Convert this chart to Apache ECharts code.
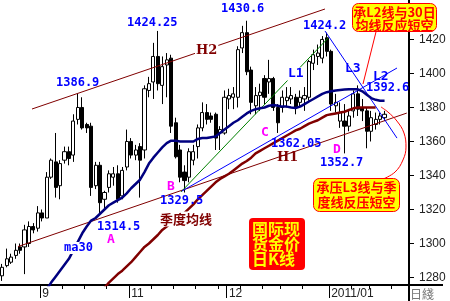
<!DOCTYPE html>
<html><head><meta charset="utf-8">
<script src="https://cdn.jsdelivr.net/npm/echarts@6/dist/echarts.min.js"></script>
<style>html,body{margin:0;padding:0;background:#fff}#c{width:450px;height:301px}</style>
</head><body><div id="c"></div><script>
// ---- data ----
const opens  = [1281,1287,1289,1293,1298,1298,1300,1310,1309,1318,1315,1339,1348,1334,1349,1354,1352,1373,1380,1370,1369,1334,1346,1326,1333,1339,1341,1328,1345,1360,1352,1357,1355,1390,1395,1410,1393,1405,1409,1371,1355,1342,1339,1349,1357,1368,1377,1375,1376,1365,1365,1385,1386,1386,1415,1424,1402,1381,1387,1397,1395,1397,1380,1380,1384,1385,1386,1383,1385,1386,1406,1410,1409,1421,1413,1381,1372,1372,1369,1378,1388,1380,1378,1366,1370,1373,1374];
const closes = [1286,1291,1292,1296,1296,1308,1310,1308,1318,1315,1339,1349,1333,1347,1354,1350,1372,1380,1368,1368,1333,1346,1324,1330,1341,1341,1326,1343,1360,1352,1355,1349,1391,1394,1410,1394,1404,1408,1369,1351,1339,1337,1354,1354,1368,1377,1373,1373,1362,1367,1386,1387,1388,1414,1424,1401,1383,1387,1389,1386,1397,1380,1371,1386,1386,1387,1380,1386,1387,1407,1411,1412,1420,1413,1382,1383,1377,1369,1375,1388,1379,1378,1366,1374,1373,1375,1376];
const highs  = [1288,1297,1294,1300,1300,1311,1313,1312,1322,1320,1342,1350,1365,1349,1357,1357,1376,1388,1386,1371,1371,1348,1348,1331,1343,1345,1346,1345,1367,1362,1358,1359,1393,1398,1418,1425,1410,1412,1411,1374,1358,1346,1356,1358,1370,1383,1382,1377,1377,1369,1390,1391,1392,1416,1428,1431,1404,1392,1394,1399,1408,1398,1382,1390,1392,1392,1388,1390,1392,1408,1414,1417,1422,1424,1414,1388,1383,1382,1378,1390,1393,1385,1380,1378,1377,1377,1378];
const lows   = [1278,1286,1288,1291,1294,1282,1298,1306,1307,1313,1315,1338,1327,1326,1347,1346,1348,1370,1367,1365,1328,1332,1317,1320,1330,1334,1324,1326,1343,1350,1349,1327,1350,1386,1385,1390,1382,1386,1365,1350,1336,1330,1336,1346,1350,1366,1370,1371,1355,1355,1364,1379,1379,1380,1412,1399,1376,1376,1378,1382,1388,1378,1365,1377,1380,1382,1376,1380,1378,1384,1402,1405,1406,1410,1378,1377,1368,1353,1366,1374,1375,1372,1356,1360,1367,1370,1372];
// 30-day moving average (navy) and quarterly average (dark red)
const ma30 = [null,null,null,null,null,null,null,null,null,null,1273,1277,1280.5,1284,1287.5,1291,1296,1301,1306,1310,1313.5,1315,1317.5,1320,1322.5,1324,1325.5,1327,1329.5,1332.5,1335,1337.5,1342,1347,1350.5,1353.5,1356.5,1359,1360.5,1360.5,1360,1360,1360,1360,1361.5,1362,1362,1362.5,1363,1365,1367,1369,1371,1372.5,1374.5,1376.5,1378,1379,1379.5,1380,1381,1381.5,1381,1380.5,1380.5,1380,1379.7,1380.5,1382,1383.5,1385,1386.5,1388,1389,1389.5,1390,1390.3,1390.5,1390.7,1390.7,1390.7,1389.5,1387.5,1385.5,1384.5,1384,1384];
const maSeason = [null,null,null,null,null,null,null,null,null,null,null,null,null,null,null,null,null,null,null,null,null,null,null,1274,1277,1279.5,1282,1284,1286.5,1289,1292,1295,1298,1300,1302.5,1305,1308,1310,1312,1314,1316,1318,1320.5,1323,1326,1328.5,1331,1333.5,1336,1338,1339.5,1341,1343,1345,1347,1348.5,1350.5,1353,1354.5,1356,1357.5,1359,1360.5,1362,1363.5,1365,1366.5,1367.5,1369,1370.5,1371.5,1372.5,1374,1375.5,1376,1376.5,1377,1377.5,1378.5,1379.5,1380,1380,1380,1380,1380];
// axis
const slotCount = 92;
const monthTickIdx = [9, 29, 51, 74];
const monthTickLabels = ['9', '11', '12', '2011/01'];
const weekTickIdx = [14, 19, 24, 34, 39, 44, 49, 54, 59, 63, 68, 79, 83, 88];
const yTicks = [1280, 1300, 1320, 1340, 1360, 1380, 1400, 1420];
// hand-drawn trend lines  [slot, price]
const lineH2 = [[6.7, 1379.1], [72.6, 1437.9]];
const lineH1 = [[3.55, 1298.2], [91.0, 1376.7]];
const lineL1 = [[40.2, 1330.3], [73.3, 1420.8]];
const lineL2 = [[40.4, 1330.8], [88.8, 1403.2]];
const lineL3 = [[72.6, 1425.0], [88.8, 1362.0]];
const pointerTop = [[84.07, 1424.4], [81.15, 1393.8]];
const pointerBottom = [[85.65, 1337.9], [88.35, 1342.0], [90.14, 1349.1], [90.82, 1356.7], [90.37, 1365.0], [88.79, 1372.0], [86.77, 1377.3], [85.2, 1380.3]];

const cats = Array.from({length: slotCount}, (_, i) => String(i));
const candles = opens.map((o, i) => [o, closes[i], lows[i], highs[i]]);

const NUM = 'bold 12px "DejaVu Sans Mono"';
const CJK = '"Noto Sans CJK SC"';
function txt(text, x, y, fill, font, extra) {
  return Object.assign({type: 'text', x: x, y: y, z: 50,
    style: Object.assign({text: text, fill: fill, font: font, textVerticalAlign: 'middle'}, extra || {})});
}
const BLUE = '#0000FF', MAG = '#FF00FF', DRED = '#800000';

const chart = echarts.init(document.getElementById('c'), null, {renderer: 'canvas'});
chart.setOption({
  animation: false,
  backgroundColor: '#fff',
  grid: {left: 0, right: 41, top: 0, bottom: 16, containLabel: false},
  xAxis: [
    {type: 'category', data: cats, boundaryGap: true, position: 'bottom',
     axisLine: {onZero: false, lineStyle: {color: '#000', width: 2}},
     axisTick: {show: true, interval: (i) => monthTickIdx.includes(i), length: 13, lineStyle: {color: '#000', width: 1}},
     axisLabel: {interval: (i) => monthTickIdx.includes(i),
       formatter: (v, i) => { const k = monthTickIdx.indexOf(i); return k >= 0 ? monthTickLabels[k] : ''; },
       align: 'left', color: '#222', fontSize: 12, fontFamily: 'Liberation Sans', margin: 3},
     splitLine: {show: false}},
    {type: 'category', data: cats, boundaryGap: true, position: 'bottom',
     axisLine: {show: false, onZero: false},
     axisTick: {show: true, interval: (i) => weekTickIdx.includes(i), length: 4, lineStyle: {color: '#000', width: 1}},
     axisLabel: {show: false}, splitLine: {show: false}},
    {type: 'value', min: -0.5, max: slotCount - 0.5, show: false}
  ],
  yAxis: {type: 'value', position: 'right', min: 1275.6, max: 1443.2,
    axisLine: {show: true, onZero: false, lineStyle: {color: '#000', width: 2}},
    axisTick: {show: true, customValues: yTicks, length: 5, lineStyle: {color: '#000'}},
    axisLabel: {customValues: yTicks, formatter: (v) => String(Math.round(v)), color: '#222', fontSize: 12, fontFamily: 'Liberation Sans', margin: 10},
    splitLine: {show: false}},
  series: [
    {type: 'candlestick', xAxisIndex: 0, data: candles, barWidth: 3.6,
     itemStyle: {color: '#fff', color0: '#000', borderColor: '#000', borderColor0: '#000', borderWidth: 1}, z: 2},
    {type: 'line', xAxisIndex: 2, data: lineH2, symbol: 'none', lineStyle: {color: DRED, width: 1}, z: 3},
    {type: 'line', xAxisIndex: 2, data: lineH1, symbol: 'none', lineStyle: {color: DRED, width: 1}, z: 3},
    {type: 'line', xAxisIndex: 2, data: lineL1, symbol: 'none', lineStyle: {color: '#008000', width: 1}, z: 3},
    {type: 'line', xAxisIndex: 2, data: lineL2, symbol: 'none', lineStyle: {color: BLUE, width: 1}, z: 3},
    {type: 'line', xAxisIndex: 2, data: lineL3, symbol: 'none', lineStyle: {color: BLUE, width: 1}, z: 3},
    {type: 'line', xAxisIndex: 0, data: ma30, symbol: 'none', connectNulls: false, lineStyle: {color: '#000080', width: 2.5}, z: 4},
    {type: 'line', xAxisIndex: 0, data: maSeason, symbol: 'none', lineStyle: {color: DRED, width: 2.5}, z: 4},
    {type: 'line', xAxisIndex: 2, data: pointerTop, symbol: 'none', lineStyle: {color: '#FF0000', width: 1}, z: 5},
    {type: 'line', xAxisIndex: 2, data: pointerBottom, symbol: 'none', smooth: 0.4, lineStyle: {color: '#FF0000', width: 1}, z: 5}
  ],
  graphic: [
    {type: 'line', shape: {x1: 409, y1: 285, x2: 409, y2: 301}, style: {stroke: '#000', lineWidth: 2}},
    {type: 'line', shape: {x1: 409, y1: 285, x2: 443, y2: 285}, style: {stroke: '#000', lineWidth: 2}},
    txt('日綫', 410, 294, '#777', '12px "Noto Sans CJK TC"'),
    txt('1386.9', 56, 82.5, BLUE, NUM),
    txt('1424.25', 127, 22.5, BLUE, NUM),
    txt('1430.6', 221, 8.5, BLUE, NUM),
    txt('1424.2', 303, 26, BLUE, NUM),
    txt('1392.6', 366, 88, BLUE, NUM),
    txt('1362.05', 271, 144, BLUE, NUM),
    txt('1352.7', 320, 162.5, BLUE, NUM),
    txt('1329.5', 160, 201, BLUE, NUM),
    txt('1314.5', 97, 226.5, BLUE, NUM),
    txt('ma30', 63, 248, BLUE, NUM, {backgroundColor: '#fff', padding: [0, 1]}),
    txt('L1', 287, 74, BLUE, 'bold 13px "DejaVu Sans Mono"', {backgroundColor: '#fff', padding: [0, 1]}),
    txt('L2', 373, 76.5, BLUE, 'bold 13px "DejaVu Sans Mono"'),
    txt('L3', 345, 69, BLUE, 'bold 13px "DejaVu Sans Mono"'),
    txt('H2', 195, 51, DRED, 'bold 13px "DejaVu Serif"', {backgroundColor: '#fff', padding: [0, 1]}),
    txt('H1', 277, 157.5, DRED, 'bold 13px "DejaVu Serif"'),
    txt('A', 107, 240, MAG, 'bold 13px "DejaVu Sans Mono"'),
    txt('B', 167, 186.5, MAG, 'bold 13px "DejaVu Sans Mono"'),
    txt('C', 261, 132.5, MAG, 'bold 13px "DejaVu Sans Mono"'),
    txt('D', 333, 150, MAG, 'bold 13px "DejaVu Sans Mono"'),
    txt('季度均线', 160, 219, DRED, 'bold 13px ' + CJK, {backgroundColor: '#fff', padding: [1, 0]}),
    {type: 'rect', z: 40, shape: {x: 249, y: 218, width: 56, height: 52, r: 4}, style: {fill: '#FF0000'}},
    txt('国际现', 252, 228.5, '#FFFF00', 'bold 16px ' + CJK),
    txt('货金价', 252, 243.5, '#FFFF00', 'bold 16px ' + CJK),
    txt('日K线', 252, 258.5, '#FFFF00', 'bold 16px ' + CJK),
    {type: 'rect', z: 40, shape: {x: 352.5, y: 3.5, width: 84, height: 28, r: 6}, style: {fill: '#FFFF00', stroke: '#FF0000', lineWidth: 1}},
    txt('承L2线与30日', 394.5, 12.5, '#FF0000', 'bold 13px ' + CJK, {textAlign: 'center'}),
    txt('均线反应短空', 394.5, 25.5, '#FF0000', 'bold 13px ' + CJK, {textAlign: 'center'}),
    {type: 'rect', z: 40, shape: {x: 313.5, y: 178.5, width: 86, height: 33, r: 6}, style: {fill: '#FFFF00', stroke: '#FF0000', lineWidth: 1}},
    txt('承压L3线与季', 356.5, 187.5, '#FF0000', 'bold 13px ' + CJK, {textAlign: 'center'}),
    txt('度线反压短空', 356.5, 202.5, '#FF0000', 'bold 13px ' + CJK, {textAlign: 'center'})
  ]
});
</script></body></html>
